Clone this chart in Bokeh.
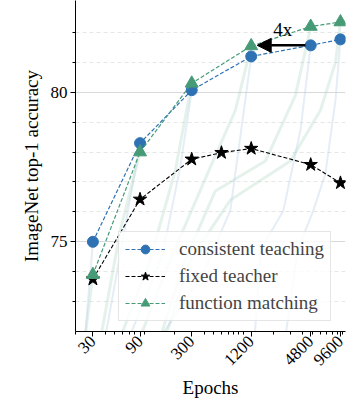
import math
from bokeh.plotting import figure
from bokeh.models import (FixedTicker, Legend, LegendItem, Arrow, NormalHead,
                          Label)
from bokeh.embed import file_html
from bokeh.resources import INLINE

# ---- data ----
epochs = [30, 90, 300, 1200, 4800, 9600]
consistent_teaching = [75.0, 78.3, 80.07, 81.2, 81.57, 81.77]
function_matching = [73.9, 78.0, 80.3, 81.55, 82.2, 82.35]
fixed_epochs = [30, 90, 300, 600, 1200, 4800, 9600]
fixed_teacher = [73.75, 76.42, 77.76, 77.98, 78.12, 77.58, 76.97]
tick_labels = ["30", "90", "300", "1200", "4800", "9600"]

# faint training curves (approximate)
blue_curves_x = [
    [25, 30],
    [40, 90],
    [70, 150, 230, 300],
    [144, 400, 738, 1200],
    [1300, 1486, 2540, 3780, 4800],
    [2660, 3525, 5115, 6770, 8550, 9600],
]
blue_curves_y = [
    [71.8, 75.0],
    [71.8, 78.3],
    [71.8, 74.5, 77.5, 80.07],
    [71.8, 74.0, 76.05, 81.2],
    [71.8, 74.72, 76.05, 78.73, 81.57],
    [71.8, 74.72, 76.05, 77.29, 79.73, 81.77],
]
green_curves_x = [
    [25, 30],
    [36, 57, 90],
    [57, 114, 205, 300],
    [90, 182, 463, 830, 1200],
    [144, 258, 520, 1670, 3365, 4800],
    [162, 290, 740, 2990, 6030, 8550, 9600],
]
green_curves_y = [
    [71.8, 73.9],
    [71.8, 75.4, 78.0],
    [71.8, 74.4, 77.4, 80.3],
    [71.8, 74.4, 77.5, 79.4, 81.55],
    [71.8, 74.4, 76.7, 77.7, 79.9, 82.2],
    [71.8, 74.4, 76.4, 77.7, 79.4, 81.0, 82.35],
]

BLUE = "#2f72b3"
GREEN = "#469b76"
FONT = "Liberation Serif"

p = figure(width=355, height=411, x_axis_type="log",
           x_range=(20, 10800), y_range=(72.0, 83.07),
           output_backend="svg", toolbar_location=None,
           min_border_left=75, min_border_right=10,
           min_border_top=0, min_border_bottom=80)
p.outline_line_color = None
p.background_fill_color = "white"

# grid
p.xgrid.visible = False
p.ygrid.ticker = FixedTicker(ticks=[75, 80],
                             minor_ticks=[73, 74, 76, 77, 78, 79, 81, 82])
p.ygrid.grid_line_color = "#d9d9d9"
p.ygrid.grid_line_width = 1
p.ygrid.minor_grid_line_color = "#e6e6e6"
p.ygrid.minor_grid_line_dash = "4 3"

# background curves
for xs, ys in zip(green_curves_x, green_curves_y):
    p.line(xs, ys, line_color="#a8d3bc", line_alpha=0.3, line_width=3)
for xs, ys in zip(blue_curves_x, blue_curves_y):
    p.line(xs, ys, line_color="#b4cbe6", line_alpha=0.35, line_width=2)

# main series
l1 = p.line(epochs, consistent_teaching, line_color=BLUE, line_dash="4 2",
            line_width=1.2)
s1 = p.scatter(epochs, consistent_teaching, marker="circle", size=11,
               fill_color=BLUE, line_color=BLUE)
l2 = p.line(fixed_epochs, fixed_teacher, line_color="black", line_dash="4 2",
            line_width=1.1)
s2 = p.scatter(fixed_epochs, fixed_teacher, marker="star", size=14,
               fill_color="black", line_color="black")
l3 = p.line(epochs, function_matching, line_color=GREEN, line_dash="4 2",
            line_width=1.2)
s3 = p.scatter(epochs, function_matching, marker="triangle", size=13,
               fill_color=GREEN, line_color=GREEN)

# arrow 4x
p.add_layout(Arrow(end=NormalHead(size=14, fill_color="black",
                                  line_color="black"),
                   x_start=4250, y_start=81.57, x_end=1380, y_end=81.57,
                   line_width=2.5, line_color="black"))
p.add_layout(Label(x=2500, y=81.75, text="4x", text_font=FONT,
                   text_font_size="19px", text_align="center",
                   text_baseline="bottom", text_color="black"))

# axes
p.xaxis.ticker = FixedTicker(
    ticks=epochs,
    minor_ticks=[20, 40, 50, 60, 70, 80, 100, 200, 400, 500, 600, 700, 800,
                 900, 1000, 2000, 3000, 4000, 5000, 6000, 7000, 8000, 9000,
                 10000])
p.xaxis.major_label_overrides = {e: t for e, t in zip(epochs, tick_labels)}
p.xaxis.major_label_orientation = math.pi / 4
p.yaxis.ticker = FixedTicker(ticks=[75, 80],
                             minor_ticks=[73, 74, 76, 77, 78, 79, 81, 82])
for ax in (p.xaxis[0], p.yaxis[0]):
    ax.axis_line_color = "black"
    ax.axis_line_width = 1
    ax.major_tick_line_color = "black"
    ax.minor_tick_line_color = "black"
    ax.major_tick_in = 0
    ax.major_tick_out = 5
    ax.minor_tick_in = 0
    ax.minor_tick_out = 3
    ax.major_label_text_font = FONT
    ax.major_label_text_font_size = "17px"
    ax.major_label_text_color = "black"
    ax.axis_label_text_font = FONT
    ax.axis_label_text_font_size = "19px"
    ax.axis_label_text_font_style = "normal"
    ax.axis_label_text_color = "black"
p.xaxis.axis_label = "Epochs"
p.yaxis.axis_label = "ImageNet top-1 accuracy"
p.xaxis.major_label_standoff = 2
p.yaxis.major_label_standoff = 3
p.xaxis.axis_label_standoff = 4
p.yaxis.axis_label_standoff = 6

legend = Legend(items=[
    LegendItem(label="consistent teaching", renderers=[l1, s1]),
    LegendItem(label="fixed teacher", renderers=[l2, s2]),
    LegendItem(label="function matching", renderers=[l3, s3]),
], location=(43, 10))
legend.label_text_font = FONT
legend.label_text_font_size = "19px"
legend.glyph_width = 40
legend.glyph_height = 22
legend.label_height = 22
legend.label_standoff = 14
legend.spacing = 5
legend.padding = 6
legend.margin = 0
legend.border_line_color = "#cccccc"
legend.border_line_width = 1
legend.background_fill_alpha = 0.8
p.add_layout(legend, "center")

open("out.html", "w").write(file_html(p, INLINE))
